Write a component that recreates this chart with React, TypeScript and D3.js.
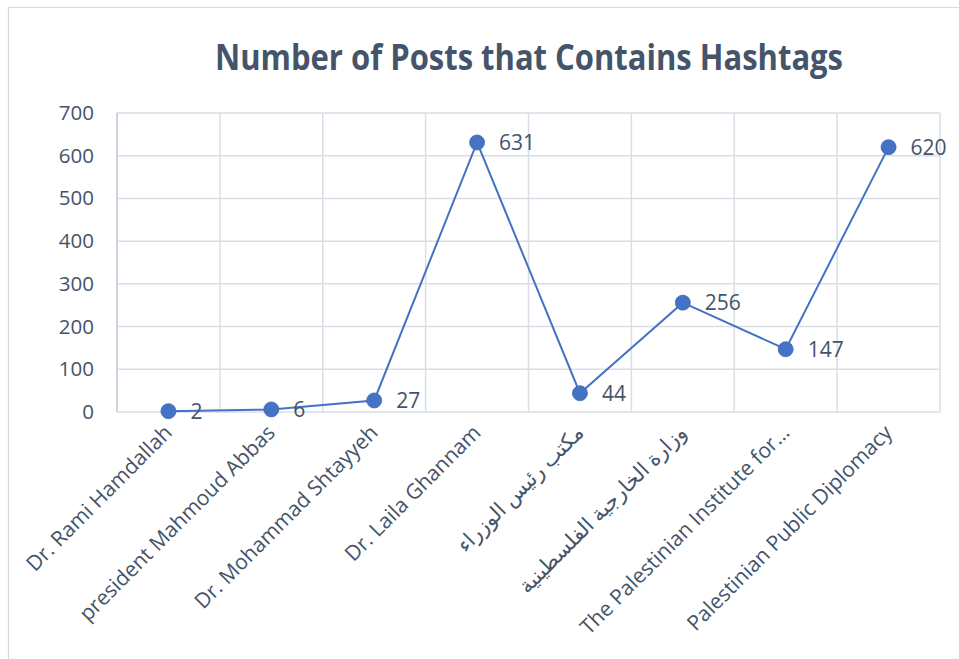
import React from "react";
import * as d3 from "d3";

const categories = [
  "Dr. Rami Hamdallah",
  "president Mahmoud Abbas",
  "Dr. Mohammad Shtayyeh",
  "Dr. Laila Ghannam",
  "مكتب رئيس الوزراء",
  "وزارة الخارجية الفلسطينية",
  "The Palestinian Institute  for…",
  "Palestinian Public Diplomacy",
];
const values = [2, 6, 27, 631, 44, 256, 147, 620];
const yTicks = [0, 100, 200, 300, 400, 500, 600, 700];
const title = "Number of Posts that Contains Hashtags";

const W = 959;
const H = 659;
const left = 117;
const right = 940;
const top = 113;
const bottom = 412;
const textColor = "#44546A";
const lineColor = "#4472C4";
const gridColor = "#D9DEE6";
const font = "'Open Sans', 'DejaVu Sans', sans-serif";

export default function App() {
  const x = d3.scaleBand<string>().domain(categories).range([left, right]).padding(0);
  const y = d3.scaleLinear().domain([0, 700]).range([bottom, top]);
  const cx = (c: string) => (x(c) as number) + x.bandwidth() / 2;
  const line = d3
    .line<number>()
    .x((_, i) => cx(categories[i]))
    .y((d) => y(d));
  const boundaries = categories.map((c) => x(c) as number).concat([right]);

  return (
    <svg
      width={W}
      height={H}
      style={{ position: "absolute", left: 0, top: 0, background: "#fff" }}
      fontFamily={font}
    >
      <rect x={0} y={0} width={W} height={H} fill="#fff" />
      <line x1={8} y1={7.5} x2={W} y2={7.5} stroke="#D9D9D9" strokeWidth={1.2} />
      <line x1={8.5} y1={7} x2={8.5} y2={H} stroke="#D9D9D9" strokeWidth={1.2} />
      <text
        x={529}
        y={70}
        textAnchor="middle"
        fontSize={36}
        fontWeight="bold"
        fill={textColor}
        textLength={628}
        lengthAdjust="spacingAndGlyphs"
        fontFamily="'Open Sans', sans-serif"
      >
        {title}
      </text>
      {yTicks.map((t) => (
        <g key={t}>
          <line x1={left} x2={right} y1={y(t)} y2={y(t)} stroke={gridColor} strokeWidth={1.5} />
          <text x={94} y={y(t) + 7} textAnchor="end" fontSize={20.5} fill={textColor}>
            {t}
          </text>
        </g>
      ))}
      {boundaries.map((b, i) => (
        <line key={i} x1={b} x2={b} y1={top} y2={bottom} stroke={gridColor} strokeWidth={1.5} />
      ))}
      <line x1={left} x2={left} y1={top} y2={bottom} stroke="#C5CEDD" strokeWidth={1.5} />
      <path d={line(values) || ""} fill="none" stroke={lineColor} strokeWidth={2} />
      {values.map((v, i) => (
        <g key={i}>
          <circle cx={cx(categories[i])} cy={y(v)} r={7.5} fill={lineColor} stroke="#3F69B5" strokeWidth={0.8} />
          <text x={cx(categories[i]) + 22} y={y(v) + 7.5} fontSize={21} fill={textColor}>
            {v}
          </text>
        </g>
      ))}
      {categories.map((c, i) => {
        const px = cx(c) + 5;
        const py = 434;
        return (
          <text
            key={i}
            x={px}
            y={py}
            transform={`rotate(-45 ${px} ${py})`}
            textAnchor="end"
            fontSize={21}
            fill={textColor}
          >
            {c}
          </text>
        );
      })}
    </svg>
  );
}
